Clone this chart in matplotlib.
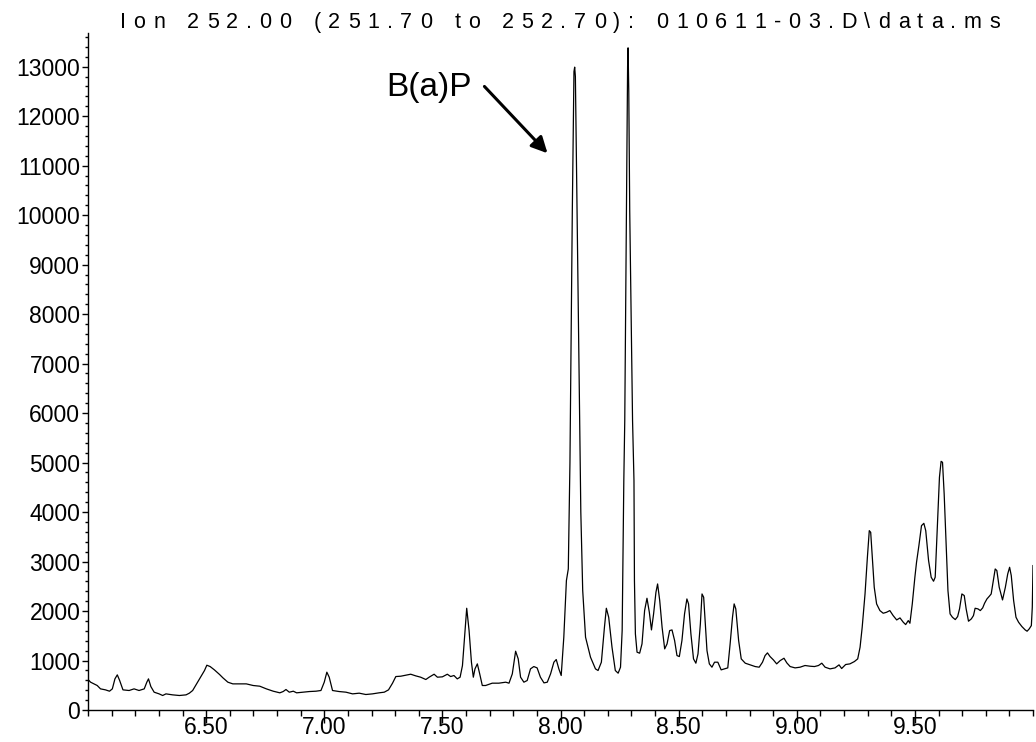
import numpy as np
import matplotlib
matplotlib.use("Agg")
import matplotlib.pyplot as plt
from matplotlib.ticker import MultipleLocator, FixedLocator

# retention time (min) and abundance
rt = [6.000, 6.011, 6.039, 6.053, 6.074, 6.091, 6.103, 6.114, 6.124, 6.134,
      6.148, 6.174, 6.195, 6.216, 6.238, 6.249, 6.256, 6.266, 6.280, 6.301,
      6.316, 6.330, 6.358, 6.387, 6.415, 6.429, 6.443, 6.472, 6.493, 6.503,
      6.517, 6.535, 6.557, 6.571, 6.592, 6.613, 6.642, 6.670, 6.699, 6.727,
      6.755, 6.784, 6.812, 6.826, 6.838, 6.852, 6.869, 6.883, 6.908, 6.937,
      6.965, 6.986, 7.000, 7.011, 7.021, 7.035, 7.063, 7.092, 7.120, 7.148,
      7.176, 7.204, 7.232, 7.254, 7.272, 7.289, 7.303, 7.324, 7.345, 7.366,
      7.387, 7.408, 7.430, 7.444, 7.465, 7.479, 7.500, 7.521, 7.535, 7.549,
      7.563, 7.575, 7.585, 7.594, 7.603, 7.613, 7.623, 7.631, 7.638, 7.648,
      7.658, 7.669, 7.683, 7.711, 7.739, 7.768, 7.782, 7.796, 7.810, 7.821,
      7.831, 7.845, 7.859, 7.873, 7.887, 7.901, 7.915, 7.930, 7.944, 7.958,
      7.972, 7.982, 7.993, 8.003, 8.014, 8.025, 8.033, 8.040, 8.050, 8.057,
      8.060, 8.063, 8.070, 8.081, 8.086, 8.094, 8.106, 8.127, 8.148, 8.159,
      8.173, 8.186, 8.194, 8.204, 8.218, 8.232, 8.244, 8.254, 8.261, 8.268,
      8.272, 8.279, 8.284, 8.286, 8.289, 8.293, 8.305, 8.311, 8.313, 8.317,
      8.324, 8.335, 8.345, 8.356, 8.366, 8.376, 8.385, 8.394, 8.404, 8.411,
      8.420, 8.430, 8.441, 8.451, 8.462, 8.472, 8.483, 8.493, 8.503, 8.514,
      8.525, 8.535, 8.542, 8.552, 8.563, 8.573, 8.582, 8.592, 8.599, 8.606,
      8.613, 8.620, 8.630, 8.641, 8.652, 8.666, 8.680, 8.694, 8.708, 8.718,
      8.728, 8.735, 8.742, 8.754, 8.765, 8.782, 8.803, 8.824, 8.841, 8.855,
      8.866, 8.876, 8.887, 8.901, 8.915, 8.930, 8.946, 8.958, 8.972, 8.993,
      9.014, 9.035, 9.056, 9.075, 9.092, 9.106, 9.120, 9.141, 9.162, 9.179,
      9.190, 9.207, 9.225, 9.244, 9.258, 9.268, 9.277, 9.289, 9.299, 9.307,
      9.313, 9.320, 9.328, 9.338, 9.352, 9.366, 9.380, 9.394, 9.408, 9.423,
      9.437, 9.451, 9.461, 9.472, 9.479, 9.489, 9.500, 9.507, 9.517, 9.528,
      9.538, 9.546, 9.558, 9.569, 9.579, 9.586, 9.596, 9.604, 9.611, 9.617,
      9.624, 9.633, 9.640, 9.649, 9.659, 9.671, 9.681, 9.689, 9.699, 9.709,
      9.717, 9.727, 9.739, 9.748, 9.755, 9.767, 9.777, 9.787, 9.795, 9.805,
      9.815, 9.823, 9.832, 9.840, 9.847, 9.857, 9.871, 9.883, 9.893, 9.901,
      9.908, 9.918, 9.928, 9.939, 9.953, 9.967, 9.975, 9.984, 9.993, 9.997,
      10.000]
abund = [616, 562, 495, 427, 407, 380, 427, 629, 710, 596,
         407, 394, 427, 394, 427, 562, 629, 474, 360, 326,
         293, 326, 306, 293, 306, 340, 394, 629, 797, 905,
         878, 811, 717, 650, 562, 528, 528, 528, 495, 481,
         427, 380, 347, 373, 414, 360, 380, 347, 360, 373,
         380, 394, 562, 764, 663, 394, 373, 360, 326, 340,
         313, 326, 347, 360, 407, 542, 676, 683, 703, 723,
         690, 663, 616, 663, 723, 663, 670, 723, 676, 697,
         629, 663, 898, 1470, 2056, 1605, 966, 663, 831, 932,
         730, 495, 495, 542, 542, 562, 542, 730, 1188, 1033,
         663, 562, 596, 831, 878, 851, 663, 548, 562, 730,
         966, 1020, 831, 697, 1471, 2615, 2850, 5000, 10090, 12900,
         12990, 12800, 10090, 5848, 4000, 2414, 1471, 1067, 831, 798,
         966, 1672, 2056, 1874, 1269, 798, 744, 865, 1605, 4636,
         5848, 10090, 13000, 13380, 12500, 10090, 5848, 4636, 2615, 1538,
         1168, 1148, 1336, 2009, 2258, 1975, 1618, 1941, 2379, 2547,
         2211, 1672, 1235, 1336, 1605, 1618, 1403, 1100, 1080, 1403,
         1941, 2244, 2144, 1538, 1033, 946, 1134, 1739, 2345, 2278,
         1739, 1201, 932, 865, 966, 966, 811, 831, 851, 1336,
         1874, 2144, 2043, 1403, 1033, 946, 912, 878, 865, 966,
         1100, 1154, 1080, 1013, 932, 999, 1046, 952, 878, 851,
         865, 899, 885, 878, 899, 946, 865, 831, 851, 912,
         838, 919, 932, 979, 1033, 1268, 1672, 2345, 3086, 3624,
         3590, 3086, 2480, 2144, 2009, 1955, 1975, 2009, 1908, 1820,
         1861, 1773, 1726, 1807, 1753, 2144, 2682, 2985, 3321, 3725,
         3772, 3624, 3019, 2683, 2602, 2683, 3827, 4702, 5025, 5005,
         4365, 3288, 2413, 1942, 1874, 1827, 1888, 2043, 2345, 2312,
         2043, 1794, 1841, 1908, 2056, 2043, 2009, 2063, 2157, 2244,
         2298, 2345, 2615, 2850, 2817, 2480, 2224, 2480, 2749, 2884,
         2716, 2211, 1874, 1773, 1686, 1618, 1592, 1639, 1706, 2076,
         2918]

x_major = [6.5, 7.0, 7.5, 8.0, 8.5, 9.0, 9.5]
x_labels = ["6.50", "7.00", "7.50", "8.00", "8.50", "9.00", "9.50"]
y_major = list(range(0, 14000, 1000))

title = "Ion 252.00 (251.70 to 252.70): 010611-03.D\\data.ms"
label = "B(a)P"

W, H = 1036, 742
fig = plt.figure(figsize=(W / 100, H / 100), dpi=100)
ax = fig.add_axes([88 / W, 1 - 710 / H, (1033 - 88) / W, (710 - 33) / H])

ax.plot(rt, abund, color="black", lw=0.9)

ax.set_xlim(6.0, 10.0)
ax.set_ylim(0, 13680)

for s in ["top", "right"]:
    ax.spines[s].set_visible(False)
for s in ["left", "bottom"]:
    ax.spines[s].set_linewidth(1.0)

ax.xaxis.set_major_locator(FixedLocator(x_major))
ax.set_xticklabels(x_labels)
ax.xaxis.set_minor_locator(MultipleLocator(0.1))
ax.yaxis.set_major_locator(FixedLocator(y_major))
ax.yaxis.set_minor_locator(MultipleLocator(200))

for t in ax.get_xticklabels() + ax.get_yticklabels():
    t.set_fontfamily("Liberation Sans")
    t.set_fontsize(16.5)

ax.tick_params(axis="x", which="major", direction="out", length=9, width=1, pad=-4.5)
ax.tick_params(axis="x", which="minor", direction="out", length=4, width=1)
ax.tick_params(axis="y", which="major", direction="out", length=4.5, width=1, pad=1)
ax.tick_params(axis="y", which="minor", direction="out", length=2.2, width=1)

# title with wide letter spacing, placed char by char
renderer = fig.canvas.get_renderer()
title_props = dict(family="Liberation Sans", size=15.5, color="black")
x0, x1, base = 120, 1000, 28
space_px = 7.0
widths = []
for ch in title:
    if ch == " ":
        widths.append(space_px)
        continue
    t = fig.text(0, 0, ch, **title_props)
    widths.append(t.get_window_extent(renderer).width)
    t.remove()
track = (x1 - x0 - sum(widths)) / (len(title) - 1)
xpos = x0
for ch, w in zip(title, widths):
    if ch != " ":
        fig.text(xpos / W, 1 - base / H, ch, ha="left", va="baseline", **title_props)
    xpos += w + track

# peak label and arrow
ax.text(7.263, 12400, label, family="Liberation Sans", size=24, ha="left", va="baseline")
ax.annotate("", xy=(7.945, 11250), xytext=(7.678, 12600),
            arrowprops=dict(arrowstyle="-|>", color="black", lw=2.2, mutation_scale=24,
                            shrinkA=0, shrinkB=0))

fig.savefig("out.png", dpi=100)
